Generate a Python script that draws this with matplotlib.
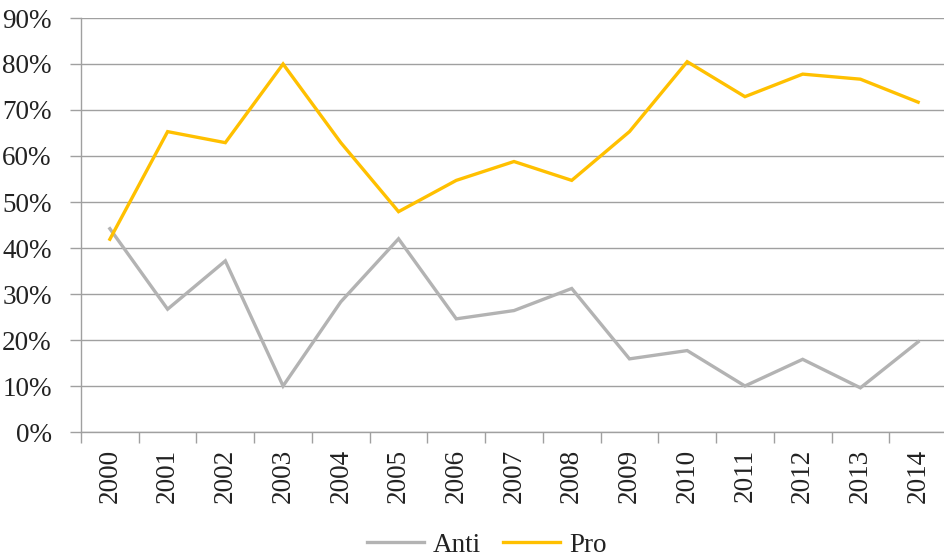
import numpy as np
import matplotlib.pyplot as plt
from matplotlib.ticker import FixedLocator, FuncFormatter

# values (percent)
years = ["2000", "2001", "2002", "2003", "2004", "2005", "2006", "2007",
         "2008", "2009", "2010", "2011", "2012", "2013", "2014"]
anti = [44.2, 26.7, 37.2, 10.0, 28.3, 42.0, 24.6, 26.4, 31.2, 15.9, 17.7, 10.0, 15.8, 9.6, 19.6]
pro = [41.9, 65.3, 62.9, 80.0, 62.9, 47.9, 54.7, 58.8, 54.7, 65.3, 80.5, 72.9, 77.8, 76.7, 71.7]

ANTI_COLOR = "#B3B3B3"
PRO_COLOR = "#FFC000"
AXIS_COLOR = "#A0A0A0"
FS = 19.5

plt.rcParams["font.family"] = ["Liberation Serif", "DejaVu Serif"]

fig = plt.figure(figsize=(9.45, 5.6), dpi=100)
ax = fig.add_axes([81 / 945, 1 - 432 / 560, 866 / 945, 414 / 560])

x = np.arange(len(years))
ax.plot(x, anti, color=ANTI_COLOR, linewidth=2.4, label="Anti", solid_joinstyle="miter")
ax.plot(x, pro, color=PRO_COLOR, linewidth=2.4, label="Pro", solid_joinstyle="miter")

ax.set_xlim(-0.5, len(years) - 0.5)
ax.set_ylim(0, 90)
ax.set_yticks(np.arange(0, 91, 10))
ax.yaxis.set_major_formatter(FuncFormatter(lambda v, _: f"{v:.0f}%"))
ax.grid(axis="y", color=AXIS_COLOR, linewidth=1.0)
ax.set_axisbelow(True)

ax.set_xticks(x)
ax.set_xticklabels(years, rotation=90)
ax.xaxis.set_minor_locator(FixedLocator(np.arange(-0.5, len(years), 1)))
ax.tick_params(axis="x", which="major", length=0, pad=12, labelsize=FS, labelcolor="#222222")
ax.tick_params(axis="x", which="minor", length=8, color=AXIS_COLOR, width=1.0)
ax.tick_params(axis="y", length=8, color=AXIS_COLOR, width=1.0, labelsize=FS, pad=13,
               labelcolor="#222222")

for side in ["top", "right"]:
    ax.spines[side].set_visible(False)
for side in ["left", "bottom"]:
    ax.spines[side].set_color(AXIS_COLOR)
    ax.spines[side].set_linewidth(1.0)

leg = fig.legend(loc="center", bbox_to_anchor=(0.515, 1 - 545 / 560), ncol=2,
                 frameon=False, fontsize=FS, handlelength=2.1, columnspacing=0.8,
                 handletextpad=0.35)
for t in leg.get_texts():
    t.set_color("#222222")

fig.savefig("out.png", dpi=100)
